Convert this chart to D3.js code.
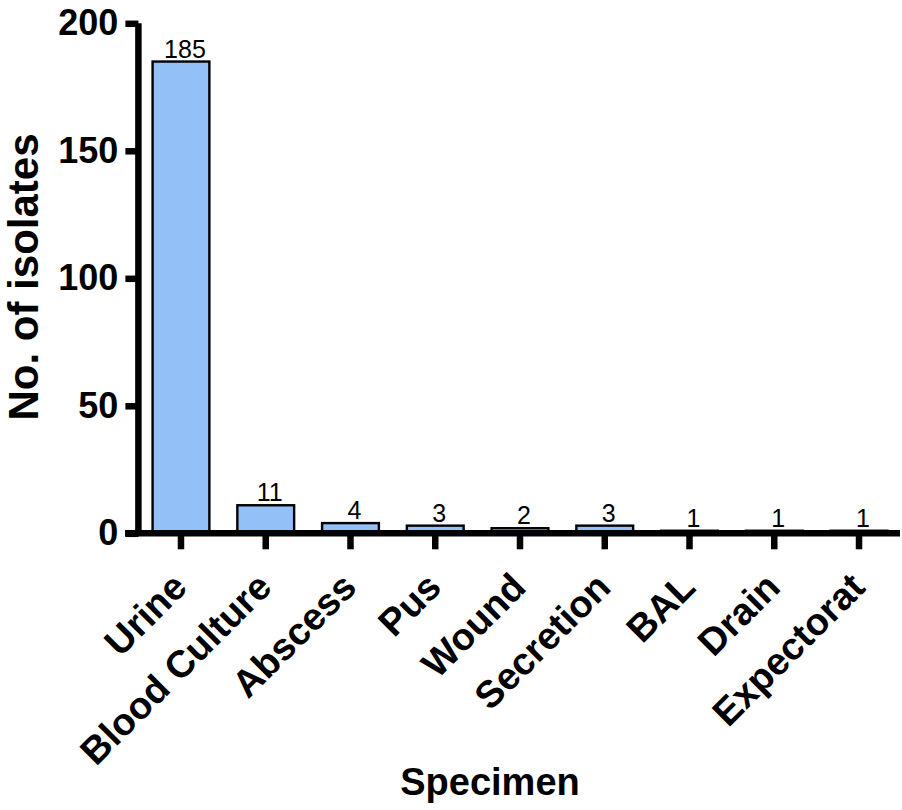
<!DOCTYPE html>
<html>
<head>
<meta charset="utf-8">
<script src="https://cdn.jsdelivr.net/npm/d3@7"></script>
<style>
  html, body { margin: 0; padding: 0; background: #fff; }
  svg { display: block; }
  text { font-family: "Liberation Sans", Arial, Helvetica, sans-serif; }
</style>
</head>
<body>
<svg id="chart" width="902" height="810"></svg>
<script>
// Isolates per specimen type
const categories = ["Urine", "Blood Culture", "Abscess", "Pus", "Wound", "Secretion", "BAL", "Drain", "Expectorat"];
const counts = [185, 11, 4, 3, 2, 3, 1, 1, 1];
const yTicks = [0, 50, 100, 150, 200];

const svg = d3.select("#chart");

const y = d3.scaleLinear().domain([0, 200]).range([533.3, 23.3]);
const x = d3.scaleBand()
  .domain(categories)
  .range([138.6, 901.4])
  .paddingInner(0.33)
  .paddingOuter(0.165);

const barColor = "#94c0f8";

// Bars
svg.append("g")
  .selectAll("rect")
  .data(categories)
  .join("rect")
  .attr("x", d => x(d))
  .attr("width", x.bandwidth())
  .attr("y", (d, i) => y(counts[i]))
  .attr("height", (d, i) => y(0) - y(counts[i]))
  .attr("fill", barColor)
  .attr("stroke", "#000")
  .attr("stroke-width", 2.4);

// Value labels above each bar
svg.append("g")
  .selectAll("text")
  .data(categories)
  .join("text")
  .attr("x", d => x(d) + x.bandwidth() / 2 + 4)
  .attr("y", (d, i) => y(counts[i]) - 4)
  .attr("text-anchor", "middle")
  .attr("font-size", 25)
  .attr("fill", "#000")
  .text((d, i) => counts[i]);

// Y axis
const yAxis = svg.append("g")
  .attr("transform", "translate(138.4,0)")
  .call(d3.axisLeft(y).tickValues(yTicks).tickSize(13).tickPadding(7).tickFormat(d3.format("d")));
yAxis.select(".domain").remove();
yAxis.selectAll(".tick line").attr("stroke", "#000").attr("stroke-width", 6.5);
yAxis.selectAll(".tick text")
  .attr("font-size", 36)
  .attr("font-weight", "bold")
  .attr("fill", "#000")
  .attr("font-family", "'Liberation Sans', Arial, sans-serif");
yAxis.append("line")
  .attr("x1", 0).attr("x2", 0)
  .attr("y1", y(200)).attr("y2", y(0))
  .attr("stroke", "#000").attr("stroke-width", 6.5);

// X axis
const xAxis = svg.append("g")
  .attr("transform", "translate(0,533.3)")
  .call(d3.axisBottom(x).tickSize(16).tickPadding(0));
xAxis.select(".domain").remove();
xAxis.selectAll(".tick line").attr("stroke", "#000").attr("stroke-width", 6.5);
xAxis.selectAll(".tick text")
  .attr("font-size", 38)
  .attr("font-weight", "bold")
  .attr("fill", "#000")
  .attr("font-family", "'Liberation Sans', Arial, sans-serif")
  .attr("text-anchor", "end")
  .attr("dy", 0)
  .attr("y", 0)
  .attr("transform", "translate(8,56) rotate(-45)");
xAxis.append("line")
  .attr("x1", 125).attr("x2", 900)
  .attr("y1", 0).attr("y2", 0)
  .attr("stroke", "#000").attr("stroke-width", 6.5);

// Axis titles
svg.append("text")
  .attr("transform", "translate(38,277) rotate(-90)")
  .attr("text-anchor", "middle")
  .attr("font-size", 42)
  .attr("font-weight", "bold")
  .attr("fill", "#000")
  .text("No. of isolates");

svg.append("text")
  .attr("x", 490)
  .attr("y", 795)
  .attr("text-anchor", "middle")
  .attr("font-size", 38)
  .attr("font-weight", "bold")
  .attr("fill", "#000")
  .text("Specimen");
</script>
</body>
</html>
